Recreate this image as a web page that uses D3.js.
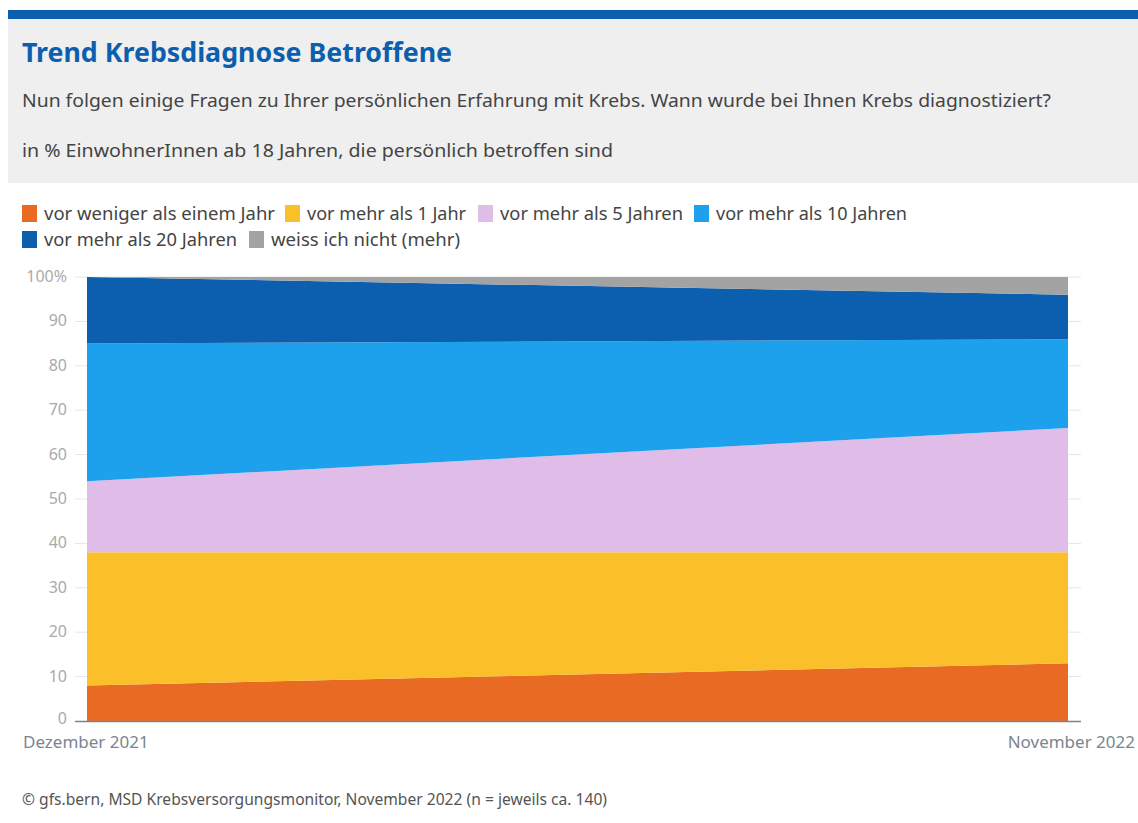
<!DOCTYPE html>
<html><head><meta charset="utf-8">
<script src="https://cdn.jsdelivr.net/npm/d3@7"></script>
<style>
body{margin:0;background:#fff;font-family:"Fira Sans","Noto Sans",sans-serif;}
</style></head>
<body>
<svg id="c" width="1138" height="823"></svg>
<script>
const periods = ["Dezember 2021", "November 2022"];
const seriesNames = ["vor weniger als einem Jahr","vor mehr als 1 Jahr","vor mehr als 5 Jahren","vor mehr als 10 Jahren","vor mehr als 20 Jahren","weiss ich nicht (mehr)"];
const colors = ["#e86a23","#fbbf2a","#e0bde8","#1ea1ec","#0c5fae","#a3a3a3"];
const valDez2021 = [8, 30, 16, 31, 15, 0];
const valNov2022 = [13, 25, 28, 20, 10, 4];
const yTicks = [0,10,20,30,40,50,60,70,80,90,100];

const svg = d3.select("#c");
const font = "'Noto Sans', sans-serif";

function fitText(sel, len){ return sel.attr("textLength",len).attr("lengthAdjust","spacingAndGlyphs"); }

// header
svg.append("rect").attr("x",8).attr("y",19).attr("width",1130).attr("height",164).attr("fill","#efefef");
svg.append("rect").attr("x",8).attr("y",10).attr("width",1130).attr("height",9).attr("fill","#0c5fae");
fitText(svg.append("text").attr("x",22).attr("y",62).text("Trend Krebsdiagnose Betroffene")
  .attr("font-family",font).attr("font-size",27).attr("font-weight","bold").attr("fill","#0c5fae"),430);
fitText(svg.append("text").attr("x",22).attr("y",107).text("Nun folgen einige Fragen zu Ihrer persönlichen Erfahrung mit Krebs. Wann wurde bei Ihnen Krebs diagnostiziert?")
  .attr("font-family",font).attr("font-size",18).attr("fill","#444"),1029);
fitText(svg.append("text").attr("x",22).attr("y",157).text("in % EinwohnerInnen ab 18 Jahren, die persönlich betroffen sind")
  .attr("font-family",font).attr("font-size",18).attr("fill","#444"),591);

// legend
const legendPos = [[22,220,253],[285,220,181],[478,220,205],[694,220,213],[22,246,215],[249,246,211]];
seriesNames.forEach((n,i)=>{
  const [x,y,w] = legendPos[i];
  svg.append("rect").attr("x",x).attr("y",y-15).attr("width",15).attr("height",17).attr("fill",colors[i]);
  fitText(svg.append("text").attr("x",x+22).attr("y",y).text(n).attr("font-family",font).attr("font-size",18).attr("fill","#444"), w-22);
});

// chart
const x = d3.scalePoint().domain(periods).range([87,1068]);
const y = d3.scaleLinear().domain([0,100]).range([721,277]);

svg.append("g").selectAll("line").data(yTicks.slice(1)).join("line")
  .attr("x1",75).attr("x2",1081).attr("y1",d=>y(d)).attr("y2",d=>y(d))
  .attr("stroke","#e6e6e6").attr("stroke-width",1);

const rows = periods.map((p,j)=>{
  const o = {period:p};
  seriesNames.forEach((n,i)=>{ o[n] = (j===0?valDez2021:valNov2022)[i]; });
  return o;
});
const stack = d3.stack().keys(seriesNames)(rows);
const area = d3.area().x(d=>x(d.data.period)).y0(d=>y(d[0])).y1(d=>y(d[1]));
svg.append("g").selectAll("path").data(stack).join("path")
  .attr("d",area).attr("fill",(d,i)=>colors[i]);

// y axis labels
svg.append("g").selectAll("text").data(yTicks).join("text")
  .attr("x",67).attr("y",d=>y(d)+(d===0?3:5)).attr("text-anchor","end")
  .text(d=>d===100?"100%":d).attr("font-family",font).attr("font-size",16).attr("fill","#aaaaaa");

// baseline
svg.append("line").attr("x1",75).attr("x2",1081).attr("y1",y(0)+0.5).attr("y2",y(0)+0.5).attr("stroke","#7a8590").attr("stroke-width",1.5);

// x labels
svg.append("text").attr("x",23).attr("y",748).text(periods[0]).attr("font-family",font).attr("font-size",17).attr("fill","#7a8590");
svg.append("text").attr("x",1135).attr("y",748).attr("text-anchor","end").text(periods[1]).attr("font-family",font).attr("font-size",17).attr("fill","#7a8590");

// footer
fitText(svg.append("text").attr("x",22).attr("y",805).text("© gfs.bern, MSD Krebsversorgungsmonitor, November 2022 (n = jeweils ca. 140)")
  .attr("font-family",font).attr("font-size",16).attr("fill","#555"),585);
</script>
</body></html>
